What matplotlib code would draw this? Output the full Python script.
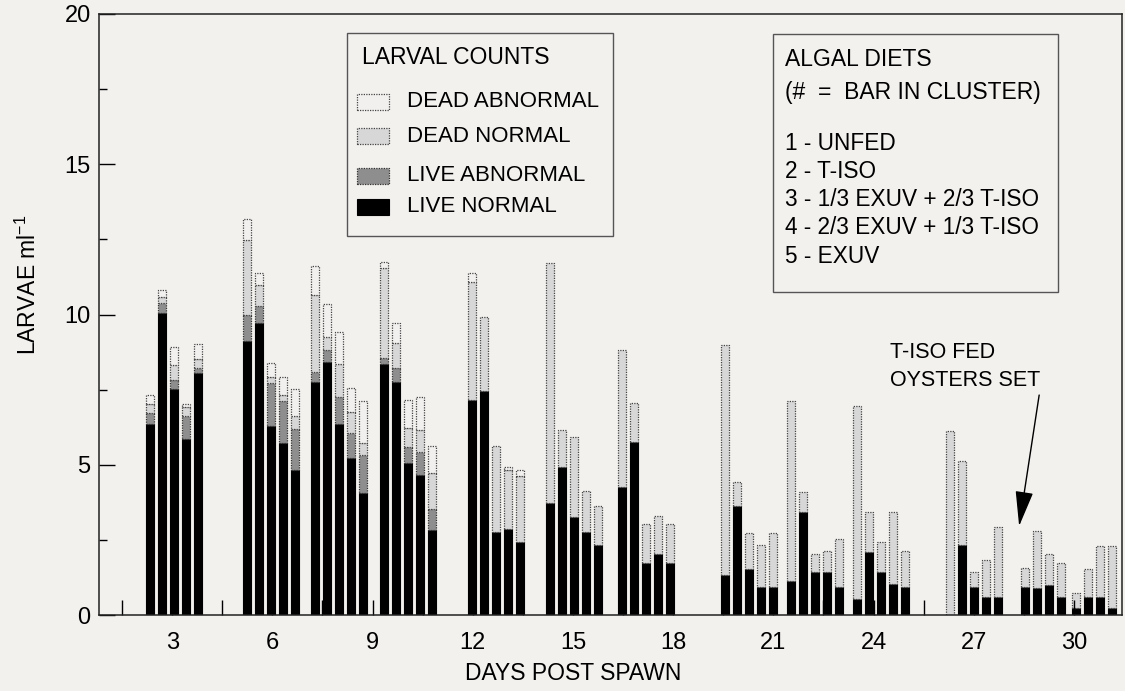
import numpy as np
import matplotlib.pyplot as plt
from matplotlib.patches import Rectangle

plt.rcParams['font.family'] = ['Liberation Sans', 'DejaVu Sans']

# ---- data: 13 sampling clusters x 5 diets (nan = no bar) ----
days = [3.06, 5.96, 8.0, 10.07, 12.7, 15.04, 17.19, 20.28, 22.25, 24.23, 27.01, 28.9, 30.77]
nan = np.nan

live_normal = [
    [6.36, 10.04, 7.52, 5.85, 8.06],
    [9.13, 9.71, 6.30, 5.73, 4.83],
    [7.76, 8.43, 6.36, 5.24, 4.05],
    [8.34, 7.76, 5.05, 4.65, 2.83],
    [7.15, 7.45, 2.75, 2.85, 2.44],
    [3.74, 4.94, 3.25, 2.75, 2.33],
    [4.25, 5.75, 1.74, 2.04, 1.74],
    [1.32, 3.63, 1.52, 0.92, 0.92],
    [1.12, 3.42, 1.42, 1.42, 0.92],
    [0.53, 2.11, 1.42, 1.02, 0.92],
    [0.00, 2.34, 0.92, 0.61, 0.61],
    [nan, 0.94, 0.90, 1.01, 0.61],
    [0.24, 0.61, 0.61, 0.22, nan],
]
live_abnormal = [
    [0.35, 0.35, 0.30, 0.77, 0.15],
    [0.85, 0.57, 1.41, 1.40, 1.35],
    [0.34, 0.39, 0.90, 0.81, 1.27],
    [0.20, 0.45, 0.55, 0.78, 0.69],
    [0, 0, 0, 0, 0],
    [0, 0, 0, 0, 0],
    [0, 0, 0, 0, 0],
    [0, 0, 0, 0, 0],
    [0, 0, 0, 0, 0],
    [0, 0, 0, 0, 0],
    [0, 0, 0, 0, 0],
    [nan, 0, 0, 0, 0],
    [0, 0, 0, 0, nan],
]
dead_normal = [
    [0.31, 0.20, 0.50, 0.29, 0.30],
    [2.50, 0.70, 0.20, 0.19, 0.44],
    [2.55, 0.44, 1.09, 0.72, 0.41],
    [3.00, 0.83, 0.63, 0.73, 1.22],
    [3.94, 2.48, 2.87, 1.98, 2.19],
    [7.98, 1.22, 2.68, 1.38, 1.30],
    [4.57, 1.30, 1.28, 1.26, 1.28],
    [7.67, 0.79, 1.20, 1.41, 1.80],
    [6.01, 0.68, 0.61, 0.70, 1.60],
    [6.42, 1.31, 1.01, 2.40, 1.20],
    [6.13, 2.79, 0.50, 1.22, 2.31],
    [nan, 0.61, 1.91, 1.02, 1.11],
    [0.50, 0.91, 1.70, 2.09, nan],
]
dead_abnormal = [
    [0.30, 0.23, 0.59, 0.11, 0.51],
    [0.69, 0.41, 0.49, 0.61, 0.90],
    [0.98, 1.08, 1.08, 0.77, 1.40],
    [0.21, 0.69, 0.92, 1.08, 0.89],
    [0.30, 0, 0, 0.11, 0.20],
    [0, 0, 0, 0, 0],
    [0, 0, 0, 0, 0],
    [0, 0, 0, 0, 0],
    [0, 0, 0, 0, 0],
    [0, 0, 0, 0, 0],
    [0, 0, 0, 0, 0],
    [nan, 0, 0, 0, 0],
    [0, 0, 0, 0, nan],
]
count_labels = ['LIVE NORMAL', 'LIVE ABNORMAL', 'DEAD NORMAL', 'DEAD ABNORMAL']
diet_labels = ['1 - UNFED', '2 - T-ISO', '3 - 1/3 EXUV + 2/3 T-ISO',
               '4 - 2/3 EXUV + 1/3 T-ISO', '5 - EXUV']

# ---- styles ----
BG = '#f3f1ee'
dots = (0, (1, 1))
styles = [
    dict(facecolor='black', edgecolor='black', linewidth=0.8, linestyle='-'),
    dict(facecolor='#8e8e8e', edgecolor='#333333', linewidth=0.9, linestyle=dots),
    dict(facecolor='#d7d7d7', edgecolor='#444444', linewidth=0.9, linestyle=dots),
    dict(facecolor='#f1f0ee', edgecolor='#444444', linewidth=0.9, linestyle=dots),
]

W, H = 1125, 691
fig = plt.figure(figsize=(W / 100, H / 100), dpi=100, facecolor=BG)
ax = fig.add_axes([99 / W, 1 - 615 / H, (1122 - 99) / W, (615 - 14) / H])
ax.set_facecolor(BG)

slot = 0.36
bw = 0.24
layers = [np.array(a, dtype=float) for a in (live_normal, live_abnormal, dead_normal, dead_abnormal)]
centers = np.array(days)
for j in range(5):
    x = centers + (j - 2) * slot
    bottom = np.zeros(len(days))
    for layer, st in zip(layers, styles):
        h = layer[:, j]
        draw = np.where(h > 0, h, np.nan)
        ax.bar(x, draw, bw, bottom=bottom, **st)
        bottom = bottom + np.nan_to_num(h)

ax.set_xlim(0.81, 31.44)
ax.set_ylim(0, 20)
ax.set_xticks(np.arange(3, 31, 3))
ax.set_xticks(np.arange(1.5, 31, 3), minor=True)
ax.set_yticks(np.arange(0, 21, 5))
ax.set_yticks(np.arange(2.5, 20, 5), minor=True)
ax.tick_params(axis='x', which='both', direction='in', length=11, width=1,
               labelsize=17, pad=12)
ax.tick_params(axis='y', which='major', direction='in', length=11.5, width=1,
               labelsize=17, pad=6)
ax.tick_params(axis='y', which='minor', direction='in', length=5.5, width=1)
for s in ax.spines.values():
    s.set_linewidth(1.1)
    s.set_color('#222222')

fig.text(573 / W, 1 - 673 / H, 'DAYS POST SPAWN', ha='center', va='center', fontsize=16.5)
fig.text(28 / W, 1 - 285 / H, r'LARVAE ml$^{\mathregular{-1}}$', rotation=90,
         ha='center', va='center', fontsize=16.5)


def px(x, y):
    return x / W, 1 - y / H


# ---- LARVAL COUNTS box ----
x0, y0 = px(347, 236)
fig.patches.append(Rectangle((x0, y0), 266 / W, (236 - 33) / H, transform=fig.transFigure,
                             facecolor='none', edgecolor='#555555', linewidth=1.0))
fig.text(*px(362, 58), 'LARVAL COUNTS', ha='left', va='center', fontsize=16.5)
entry_y = [206.7, 175.7, 136, 101.7]
for lab, st, yy in zip(count_labels, styles, entry_y):
    rx, ry = px(357, yy + 8)
    fig.patches.append(Rectangle((rx, ry), 32 / W, 16 / H, transform=fig.transFigure, **st))
    fig.text(*px(407, yy), lab, ha='left', va='center', fontsize=16)

# ---- ALGAL DIETS box ----
x0, y0 = px(773, 292)
fig.patches.append(Rectangle((x0, y0), (1058 - 773) / W, (292 - 34) / H, transform=fig.transFigure,
                             facecolor='none', edgecolor='#555555', linewidth=1.0))
fig.text(*px(785, 59), 'ALGAL DIETS', ha='left', va='center', fontsize=16.5)
fig.text(*px(785, 92), '(#  =  BAR IN CLUSTER)', ha='left', va='center', fontsize=16.5)
for i, lab in enumerate(diet_labels):
    fig.text(*px(785, 143 + 28.3 * i), lab, ha='left', va='center', fontsize=16.3)

# ---- annotation ----
ax.annotate('', xy=(28.36, 2.96), xytext=(28.96, 7.32),
            arrowprops=dict(arrowstyle='-|>,head_length=1.1,head_width=0.28',
                            mutation_scale=20, color='black', lw=1.0, shrinkA=0, shrinkB=0))
fig.text(*px(890, 353), 'T-ISO FED', ha='left', va='center', fontsize=15.5)
fig.text(*px(890, 380), 'OYSTERS SET', ha='left', va='center', fontsize=15.5)

fig.savefig('out.png', dpi=100, facecolor=BG)
